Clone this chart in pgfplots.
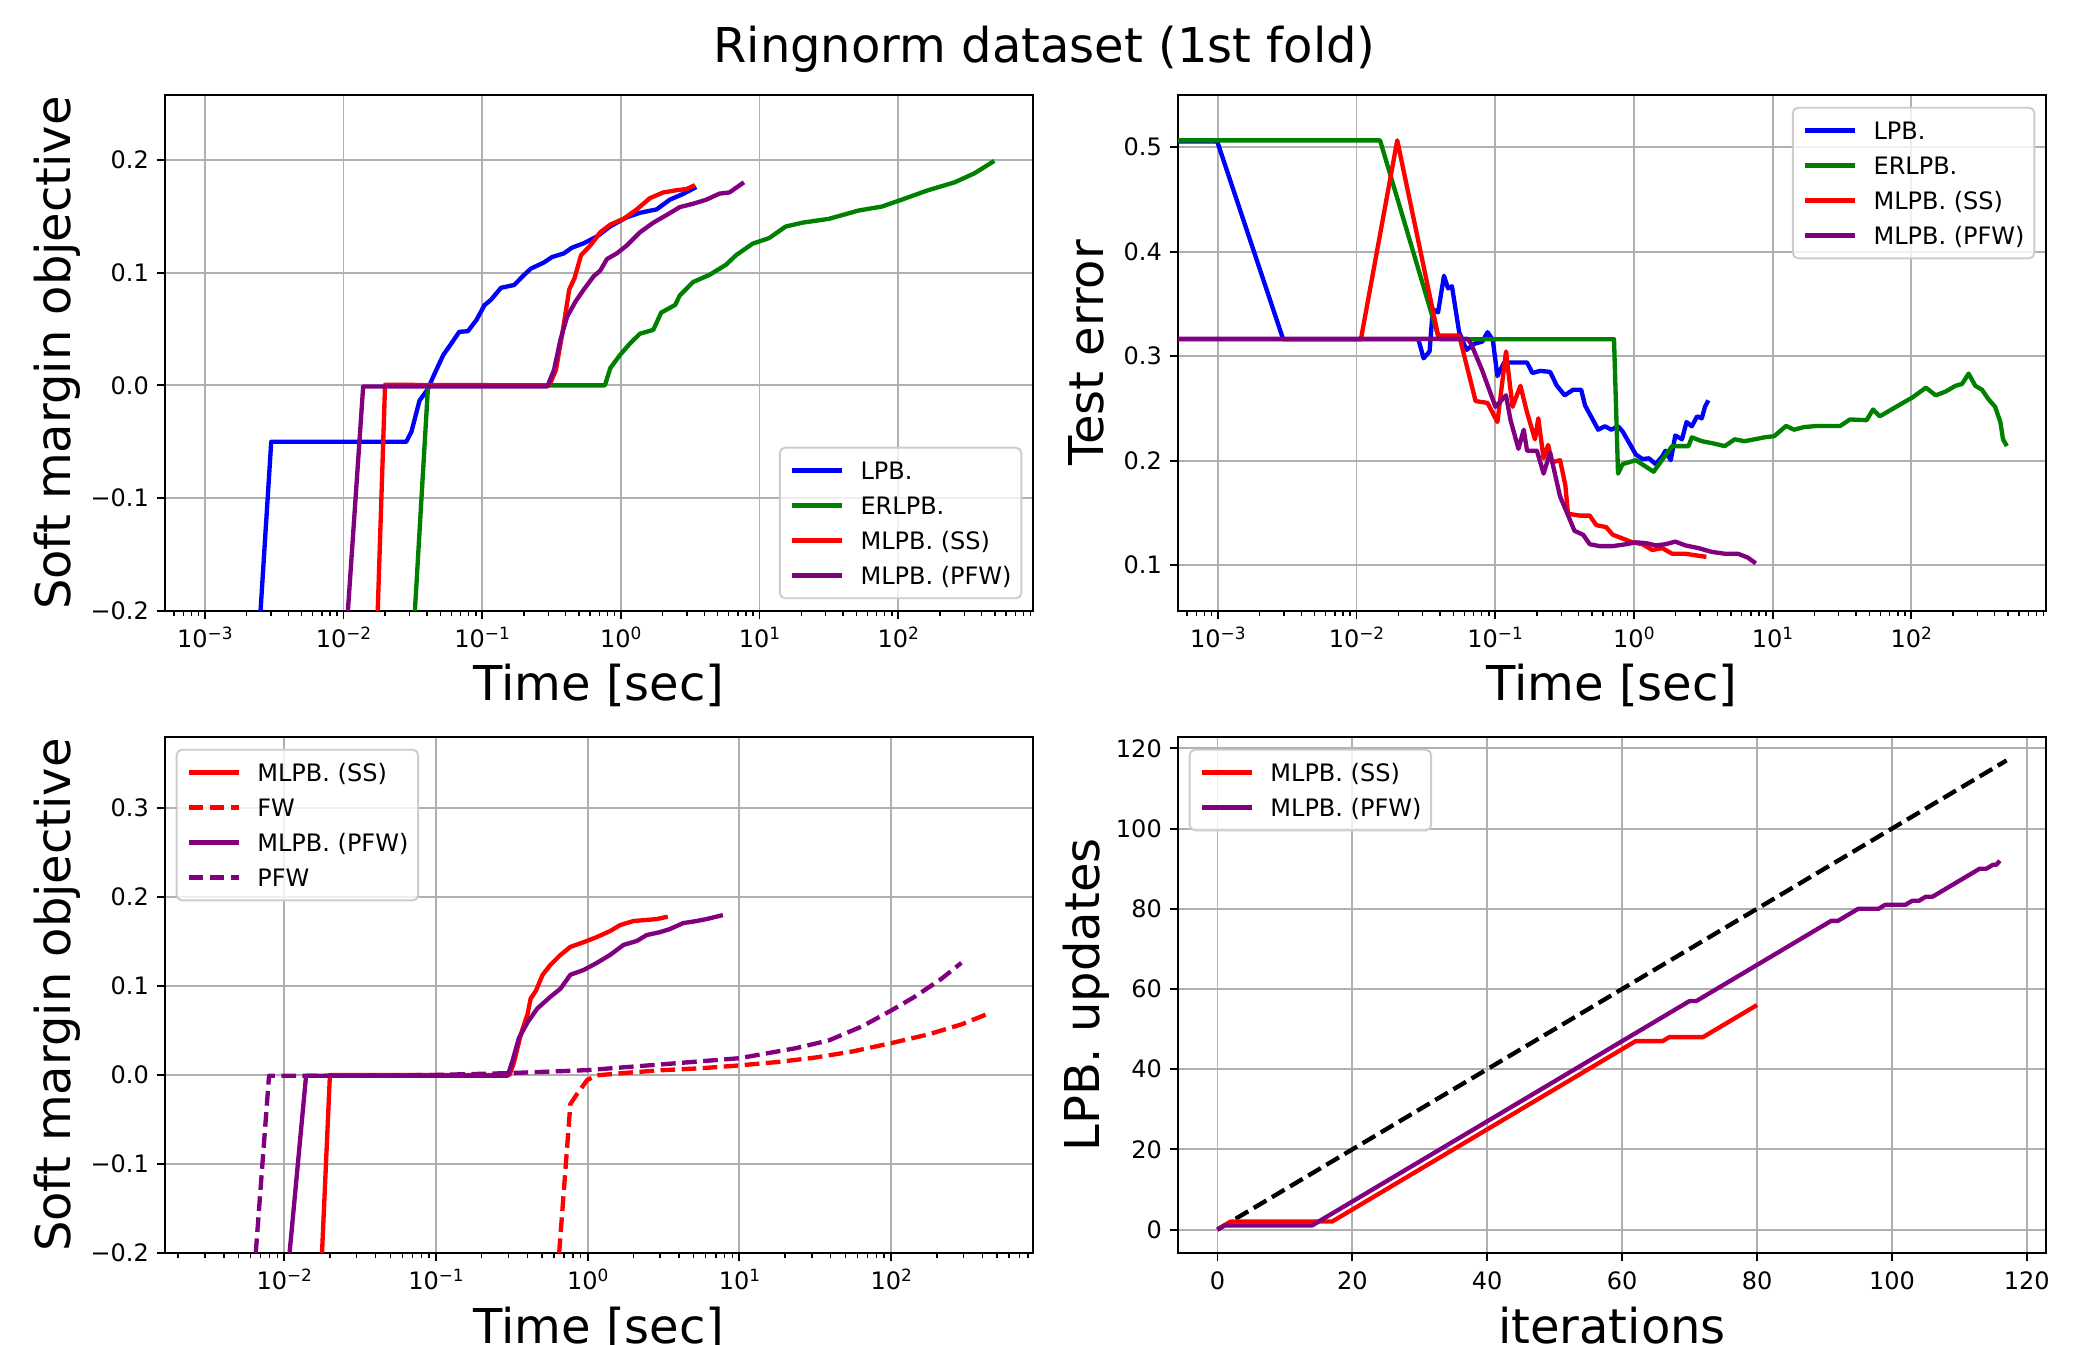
\documentclass[border=0pt]{standalone}
\usepackage{fontspec}
\setmainfont{DejaVu Sans}
\usepackage{pgfplots}
\pgfplotsset{compat=1.18}

\definecolor{mblue}{rgb}{0,0,1}
\definecolor{mgreen}{rgb}{0,0.502,0}
\definecolor{mred}{rgb}{1,0,0}
\definecolor{mpurple}{rgb}{0.502,0,0.502}
\definecolor{gridc}{HTML}{B0B0B0}
\definecolor{legc}{HTML}{CCCCCC}

\newcommand{\tp}[1]{10\raisebox{0.37em}{\fontsize{7.6}{8}\selectfont #1}}

\pgfplotsset{
  mpl/.style={
    scale only axis, width=390.6pt, height=232.2pt, anchor=north west,
    axis line style={line width=0.87pt, black},
    tick align=outside, xtick pos=bottom, ytick pos=left,
    major tick length=3.8pt, minor tick length=2.2pt,
    major tick style={black, line width=0.87pt},
    minor tick style={black, line width=0.65pt},
    grid=major, major grid style={gridc, line width=0.87pt},
    ticklabel style={font=\fontsize{10.8}{13}\selectfont},
    xticklabel style={anchor=base, inner sep=0pt, yshift=-12.8pt},
    yticklabel style={anchor=east, inner sep=0pt, xshift=-3.3pt},
    label style={font=\fontsize{21.6}{26}\selectfont},
    xlabel style={at={(axis description cs:0.5,-0.1744)}, anchor=base},
    legend cell align=left,
    legend style={font=\fontsize{10.8}{13}\selectfont, draw=legc, line width=0.87pt,
      rounded corners=2.4pt, fill=white, fill opacity=0.8, draw opacity=1, text opacity=1,
      inner xsep=4.4pt, inner ysep=4.7pt, row sep=4.65pt,
      nodes={inner sep=0pt, text height=9.5pt, text depth=1.6pt}},
    legend image code/.code={\draw[#1] (0pt,0pt) -- (22.8pt,0pt); \path (30pt,0pt);},
    every axis plot/.append style={line width=1.95pt, line join=round},
  },
  logx/.style={
    xmin=5.164e-4, xmax=937.6,
    xtick={1e-3,1e-2,1e-1,1,10,100},
    xticklabels={\tp{−3},\tp{−2},\tp{−1},\tp{0},\tp{1},\tp{2}},
    minor xtick={6e-4,7e-4,8e-4,9e-4,2e-3,3e-3,4e-3,5e-3,6e-3,7e-3,8e-3,9e-3,0.02,0.03,0.04,0.05,0.06,0.07,0.08,0.09,0.2,0.3,0.4,0.5,0.6,0.7,0.8,0.9,2,3,4,5,6,7,8,9,20,30,40,50,60,70,80,90,200,300,400,500,600,700,800,900},
  },
  dashedmpl/.style={dash pattern=on 6.6pt off 2.9pt},
}

\begin{document}
\begin{tikzpicture}
\useasboundingbox (0,0) rectangle (933.75pt,-604.8pt);
\clip (0,0) rectangle (933.75pt,-604.8pt);

\node[anchor=base, font=\fontsize{21.6}{26}\selectfont] at (470pt,-27.9pt) {Ringnorm dataset (1st fold)};

% ---------------- Panel 1 ----------------
\begin{semilogxaxis}[mpl, logx, at={(74.25pt,-42.75pt)},
  ymin=-0.2, ymax=0.2574,
  ytick={-0.2,-0.1,0,0.1,0.2}, yticklabels={−0.2,−0.1,0.0,0.1,0.2},
  xlabel={Time [sec]}, ylabel={Soft margin objective},
  ylabel style={at={(axis description cs:-0.1083,0.5)}, anchor=base},
  legend style={at={(1,0)}, anchor=south east, xshift=-4.8pt, yshift=5.3pt}]
\addplot[mblue] coordinates {(0.002523,-0.2) (0.003013,-0.05) (0.02838,-0.05) (0.03097,-0.0407) (0.03532,-0.0136) (0.04074,-0.003) (0.04406,0.0068) (0.04808,0.017) (0.05248,0.027) (0.05984,0.037) (0.06839,0.0475) (0.07889,0.048) (0.09099,0.058) (0.1038,0.071) (0.1159,0.076) (0.1368,0.0865) (0.1702,0.089) (0.2009,0.098) (0.2244,0.1035) (0.2793,0.109) (0.3184,0.1137) (0.3882,0.117) (0.4436,0.122) (0.5408,0.126) (0.673,0.132) (0.8395,0.141) (1.104,0.149) (1.374,0.153) (1.811,0.156) (2.254,0.1646) (2.812,0.1697) (3.499,0.1758)};
\addlegendentry{LPB.}
\addplot[mgreen] coordinates {(0.03273,-0.2) (0.04074,0.0) (0.7674,0.0) (0.8395,0.0153) (0.9886,0.0271) (1.167,0.0373) (1.374,0.0458) (1.714,0.0492) (1.954,0.0645) (2.464,0.0713) (2.661,0.0797) (3.319,0.0916) (4.365,0.098) (5.741,0.107) (6.776,0.1154) (8.913,0.1256) (11.75,0.1306) (15.45,0.1408) (20.33,0.1442) (31.6,0.1476) (51.8,0.155) (76.2,0.1585) (105.9,0.1646) (164.4,0.173) (255.3,0.18) (354.8,0.188) (493.3,0.199)};
\addlegendentry{ERLPB.}
\addplot[mred] coordinates {(0.01766,-0.2) (0.01995,0.0005) (0.3048,0.0) (0.3404,0.0136) (0.3802,0.0475) (0.4246,0.085) (0.4634,0.095) (0.5164,0.1154) (0.6026,0.124) (0.7112,0.1357) (0.8395,0.1425) (1.045,0.1476) (1.303,0.156) (1.622,0.166) (2.023,0.171) (2.518,0.173) (2.972,0.174) (3.428,0.1775)};
\addlegendentry{MLPB. (SS)}
\addplot[mpurple] coordinates {(0.01076,-0.2) (0.01387,-0.001) (0.2951,-0.001) (0.3296,0.0136) (0.3673,0.0407) (0.4102,0.061) (0.4732,0.0747) (0.5408,0.085) (0.6368,0.0967) (0.7112,0.1018) (0.7943,0.112) (0.9354,0.117) (1.104,0.124) (1.374,0.1357) (1.714,0.1442) (2.138,0.151) (2.661,0.158) (3.319,0.161) (4.130,0.1646) (5.152,0.170) (6.067,0.171) (7.727,0.18)};
\addlegendentry{MLPB. (PFW)}
\end{semilogxaxis}

% ---------------- Panel 2 ----------------
\begin{semilogxaxis}[mpl, logx, at={(530.1pt,-42.75pt)},
  ymin=0.0562, ymax=0.55,
  ytick={0.1,0.2,0.3,0.4,0.5}, yticklabels={0.1,0.2,0.3,0.4,0.5},
  xlabel={Time [sec]}, ylabel={Test error},
  ylabel style={at={(axis description cs:-0.0853,0.5)}, anchor=base},
  legend style={at={(1,1)}, anchor=north east, xshift=-4.8pt, yshift=-5.3pt}]
\addplot[mblue] coordinates {(4e-4,0.5055) (0.000991,0.5055) (0.002958,0.3163) (0.02793,0.3163) (0.03048,0.298) (0.03365,0.3046) (0.03551,0.345) (0.03875,0.342) (0.04276,0.377) (0.04571,0.365) (0.04879,0.367) (0.05500,0.323) (0.06209,0.306) (0.07079,0.312) (0.08072,0.314) (0.08810,0.323) (0.09616,0.3155) (0.1038,0.281) (0.1159,0.294) (0.1291,0.294) (0.1698,0.294) (0.1854,0.284) (0.2113,0.286) (0.2489,0.285) (0.2780,0.272) (0.3170,0.2626) (0.3656,0.268) (0.4169,0.268) (0.4446,0.253) (0.5070,0.239) (0.5534,0.2297) (0.6180,0.233) (0.6887,0.2297) (0.7691,0.233) (0.8299,0.228) (0.9268,0.217) (1.033,0.206) (1.153,0.2016) (1.285,0.2023) (1.435,0.1968) (1.600,0.204) (1.690,0.2096) (1.845,0.2005) (1.991,0.2242) (2.223,0.2205) (2.399,0.237) (2.619,0.233) (2.859,0.2425) (3.090,0.2406) (3.258,0.2516) (3.443,0.2578)};
\addlegendentry{LPB.}
\addplot[mgreen] coordinates {(4e-4,0.5066) (0.01479,0.5066) (0.03875,0.3199) (0.04,0.3163) (0.7194,0.3163) (0.7691,0.1877) (0.8299,0.1968) (1.033,0.2005) (1.389,0.1895) (1.888,0.214) (2.479,0.214) (2.619,0.2224) (3.090,0.2187) (3.639,0.2169) (4.529,0.214) (5.333,0.2205) (6.281,0.2187) (7.413,0.2205) (8.730,0.2224) (10.28,0.2235) (12.53,0.2333) (14.29,0.2297) (16.83,0.2322) (20.96,0.2333) (30.73,0.2333) (36.22,0.2395) (47.64,0.2388) (53.09,0.249) (59.29,0.2425) (73.79,0.2498) (86.90,0.2553) (102.4,0.2607) (127.6,0.2699) (150.3,0.2626) (177.0,0.2662) (208.4,0.2717) (232.8,0.2735) (259.4,0.2834) (289.7,0.2717) (323.6,0.268) (360.6,0.2589) (402.7,0.2516) (439.5,0.237) (459.2,0.2205) (489.8,0.214)};
\addlegendentry{ERLPB.}
\addplot[mred] coordinates {(4e-4,0.3163) (0.01076,0.3163) (0.01968,0.5066) (0.03875,0.3199) (0.05500,0.3199) (0.07228,0.2571) (0.0881,0.2553) (0.1038,0.237) (0.1197,0.3046) (0.1334,0.2516) (0.1521,0.2717) (0.1698,0.2461) (0.1936,0.2205) (0.2046,0.2406) (0.2234,0.2023) (0.2410,0.2151) (0.2576,0.1986) (0.2938,0.2005) (0.3206,0.1767) (0.3350,0.1493) (0.4074,0.1475) (0.4808,0.1475) (0.5358,0.1384) (0.6310,0.1365) (0.7047,0.1292) (0.8299,0.1256) (0.9772,0.1219) (1.153,0.1201) (1.358,0.1146) (1.600,0.1164) (1.888,0.111) (2.350,0.111) (2.924,0.1091) (3.334,0.108)};
\addlegendentry{MLPB. (SS)}
\addplot[mpurple] coordinates {(4e-4,0.3166) (0.06339,0.3166) (0.06699,0.312) (0.08072,0.2863) (0.1005,0.2516) (0.1197,0.2626) (0.1291,0.2388) (0.1472,0.2114) (0.1607,0.2297) (0.1698,0.2096) (0.2000,0.2096) (0.2234,0.1877) (0.2489,0.2078) (0.2938,0.1658) (0.3273,0.1511) (0.3733,0.1329) (0.4305,0.1292) (0.4808,0.1201) (0.5662,0.1183) (0.7047,0.1183) (0.8770,0.1201) (1.033,0.1219) (1.219,0.1212) (1.435,0.119) (1.690,0.1201) (1.991,0.1226) (2.350,0.119) (2.924,0.1164) (3.639,0.1128) (4.529,0.111) (5.636,0.111) (6.637,0.1073) (7.568,0.1018)};
\addlegendentry{MLPB. (PFW)}
\end{semilogxaxis}

% ---------------- Panel 3 ----------------
\begin{semilogxaxis}[mpl, at={(74.25pt,-331.65pt)},
  xmin=1.637e-3, xmax=861,
  xtick={1e-2,1e-1,1,10,100},
  xticklabels={\tp{−2},\tp{−1},\tp{0},\tp{1},\tp{2}},
  minor xtick={2e-3,3e-3,4e-3,5e-3,6e-3,7e-3,8e-3,9e-3,0.02,0.03,0.04,0.05,0.06,0.07,0.08,0.09,0.2,0.3,0.4,0.5,0.6,0.7,0.8,0.9,2,3,4,5,6,7,8,9,20,30,40,50,60,70,80,90,200,300,400,500,600,700,800},
  ymin=-0.2, ymax=0.3795,
  ytick={-0.2,-0.1,0,0.1,0.2,0.3}, yticklabels={−0.2,−0.1,0.0,0.1,0.2,0.3},
  xlabel={Time [sec]}, ylabel={Soft margin objective},
  ylabel style={at={(axis description cs:-0.1083,0.5)}, anchor=base},
  legend style={at={(0,1)}, anchor=north west, xshift=4.8pt, yshift=-5.3pt}]
\addplot[mred] coordinates {(0.01774,-0.2) (0.02,0.0) (0.3055,0.0) (0.3273,0.0143) (0.3622,0.0455) (0.4009,0.0679) (0.4207,0.0857) (0.4560,0.0946) (0.5047,0.1125) (0.5689,0.1237) (0.6622,0.1348) (0.7691,0.1438) (0.9419,0.1491) (1.151,0.1549) (1.406,0.1616) (1.637,0.1683) (2.000,0.1728) (2.449,0.1741) (2.844,0.175) (3.373,0.1777)};
\addlegendentry{MLPB. (SS)}
\addplot[mred, dashedmpl] coordinates {(0.6486,-0.2) (0.7691,-0.0326) (0.851,-0.0214) (0.9908,-0.0058) (1.151,-0.0004) (2.0,0.003) (3.15,0.0054) (5.6,0.0075) (10,0.0107) (17.8,0.0145) (31.6,0.0195) (56.2,0.0265) (100,0.0357) (176,0.0455) (290,0.0567) (456,0.0701)};
\addlegendentry{FW}
\addplot[mpurple] coordinates {(0.01084,-0.2) (0.01393,-0.001) (0.2963,-0.001) (0.3177,0.0143) (0.3516,0.0411) (0.4009,0.0589) (0.4656,0.0746) (0.5689,0.0879) (0.6622,0.0969) (0.7691,0.1125) (0.9419,0.1179) (1.151,0.1259) (1.406,0.1348) (1.722,0.146) (2.104,0.1504) (2.449,0.1571) (2.992,0.1603) (3.475,0.1638) (4.256,0.1705) (5.200,0.1728) (6.053,0.175) (7.780,0.1795)};
\addlegendentry{MLPB. (PFW)}
\addplot[mpurple, dashedmpl] coordinates {(0.00649,-0.2) (0.00794,-0.001) (0.03,-0.001) (0.1,0.0) (0.3,0.002) (1,0.0054) (3.15,0.012) (10,0.0188) (23.5,0.030) (38.9,0.0388) (64.3,0.0545) (100,0.0723) (143.6,0.088) (214.7,0.108) (290.3,0.1259)};
\addlegendentry{PFW}
\end{semilogxaxis}

% ---------------- Panel 4 ----------------
\begin{axis}[mpl, at={(530.1pt,-331.65pt)},
  xmin=-5.85, xmax=122.85, ymin=-5.85, ymax=122.85,
  xtick={0,20,40,60,80,100,120}, xticklabels={0,20,40,60,80,100,120},
  ytick={0,20,40,60,80,100,120}, yticklabels={0,20,40,60,80,100,120},
  xlabel={iterations}, ylabel={LPB. updates},
  ylabel style={at={(axis description cs:-0.0899,0.5)}, anchor=base},
  legend style={at={(0,1)}, anchor=north west, xshift=4.8pt, yshift=-5.3pt}]
\addplot[black, dashedmpl, forget plot] coordinates {(0,0) (117,117)};
\addplot[mred] coordinates {(0,0) (2,2) (17,2) (62,47) (66,47) (67,48) (72,48) (80,56)};
\addlegendentry{MLPB. (SS)}
\addplot[mpurple] coordinates {(0,0) (1,1) (14,1) (70,57) (71,57) (91,77) (92,77) (95,80) (98,80) (99,81) (102,81) (103,82) (104,82) (105,83) (106,83) (113,90) (114,90) (115,91) (115.5,91) (116,92)};
\addlegendentry{MLPB. (PFW)}
\end{axis}
\end{tikzpicture}
\end{document}
